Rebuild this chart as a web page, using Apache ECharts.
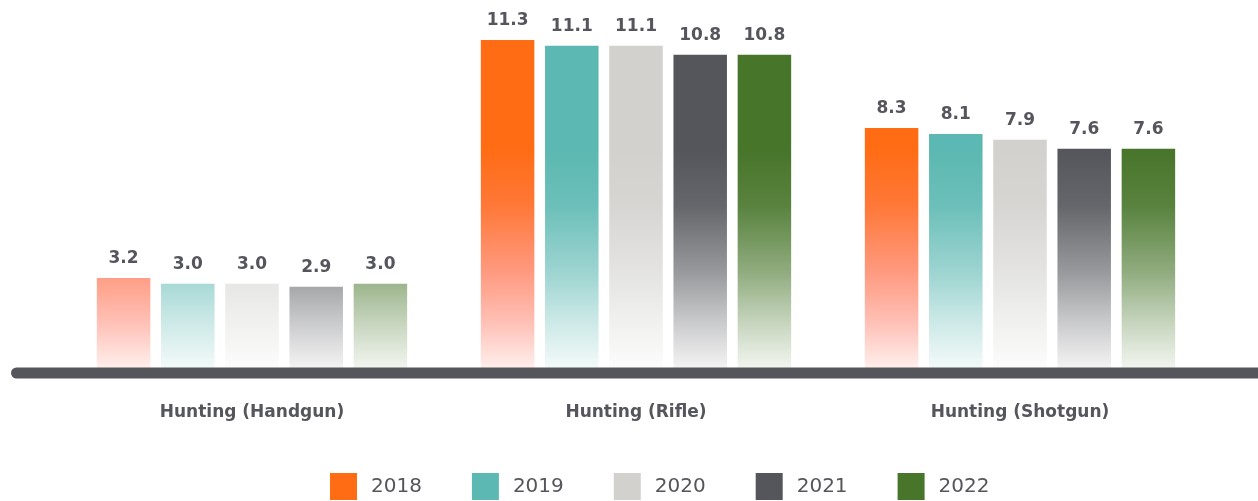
<!DOCTYPE html>
<html>
<head>
<meta charset="utf-8">
<script src="https://cdn.jsdelivr.net/npm/echarts@6/dist/echarts.min.js"></script>
<style>
html,body{margin:0;padding:0;background:#fff;}
#chart{width:1258px;height:501px;}
</style>
</head>
<body>
<div id="chart"></div>
<script>
const categories = ['Hunting (Handgun)', 'Hunting (Rifle)', 'Hunting (Shotgun)'];
const years = ['2018', '2019', '2020', '2021', '2022'];
const v2018 = [3.2, 11.3, 8.3];
const v2019 = [3.0, 11.1, 8.1];
const v2020 = [3.0, 11.1, 7.9];
const v2021 = [2.9, 10.8, 7.6];
const v2022 = [3.0, 10.8, 7.6];
const seriesValues = [v2018, v2019, v2020, v2021, v2022];
const colors = ['#ff6c14', '#5cb8b2', '#d2d1ce', '#54565b', '#47752a'];

function rgba(hex, a) {
  const n = parseInt(hex.slice(1), 16);
  return 'rgba(' + ((n >> 16) & 255) + ',' + ((n >> 8) & 255) + ',' + (n & 255) + ',' + a + ')';
}
function grad(hex, i) {
  let stops;
  if (i === 0) {
    stops = [
      { offset: 0, color: '#ff6c14' },
      { offset: 0.33, color: '#ff6c14' },
      { offset: 0.5, color: '#ff7838' },
      { offset: 0.7, color: '#ff9a80' },
      { offset: 0.84, color: '#ffbdb2' },
      { offset: 1, color: '#fff2f0' }
    ];
  } else {
    stops = [
      { offset: 0, color: rgba(hex, 1) },
      { offset: 0.33, color: rgba(hex, 1) },
      { offset: 0.5, color: rgba(hex, 0.9) },
      { offset: 0.7, color: rgba(hex, 0.6) },
      { offset: 0.84, color: rgba(hex, 0.33) },
      { offset: 1, color: rgba(hex, 0.05) }
    ];
  }
  return new echarts.graphic.LinearGradient(0, 40, 0, 372, stops, true);
}

const textColor = '#54565b';
const chart = echarts.init(document.getElementById('chart'), null, { renderer: 'canvas' });
const option = {
  animation: false,
  backgroundColor: '#ffffff',
  grid: { left: 60, right: 46, top: 19.4, bottom: 129, containLabel: false },
  legend: {
    data: years.map((y, i) => ({ name: y, itemStyle: { color: colors[i] } })),
    left: 330,
    top: 473,
    padding: 0,
    icon: 'rect',
    itemWidth: 27,
    itemHeight: 27,
    itemGap: 50,
    textStyle: { color: textColor, fontFamily: 'DejaVu Sans', fontSize: 20, padding: [0, 0, 0, 9] }
  },
  xAxis: {
    type: 'category',
    data: categories,
    axisLine: { show: false },
    axisTick: { show: false },
    axisLabel: {
      margin: 32,
      color: textColor,
      fontFamily: 'DejaVu Sans',
      fontWeight: 'bold',
      fontSize: 17
    }
  },
  yAxis: {
    type: 'value',
    min: 0,
    max: 12,
    show: false,
    splitLine: { show: false }
  },
  series: seriesValues.map((vals, i) => ({
    name: years[i],
    type: 'bar',
    data: vals,
    barWidth: 53.5,
    barGap: '20%',
    itemStyle: { color: grad(colors[i], i) },
    label: {
      show: true,
      position: 'top',
      distance: 11,
      formatter: p => p.value.toFixed(1),
      color: textColor,
      fontFamily: 'DejaVu Sans',
      fontWeight: 'bold',
      fontSize: 17
    }
  })),
  graphic: [{
    type: 'line',
    z: 100,
    shape: { x1: 16.5, y1: 373, x2: 1275, y2: 373 },
    style: { stroke: '#54565b', lineWidth: 11, lineCap: 'round' }
  }]
};
chart.setOption(option);
</script>
</body>
</html>
